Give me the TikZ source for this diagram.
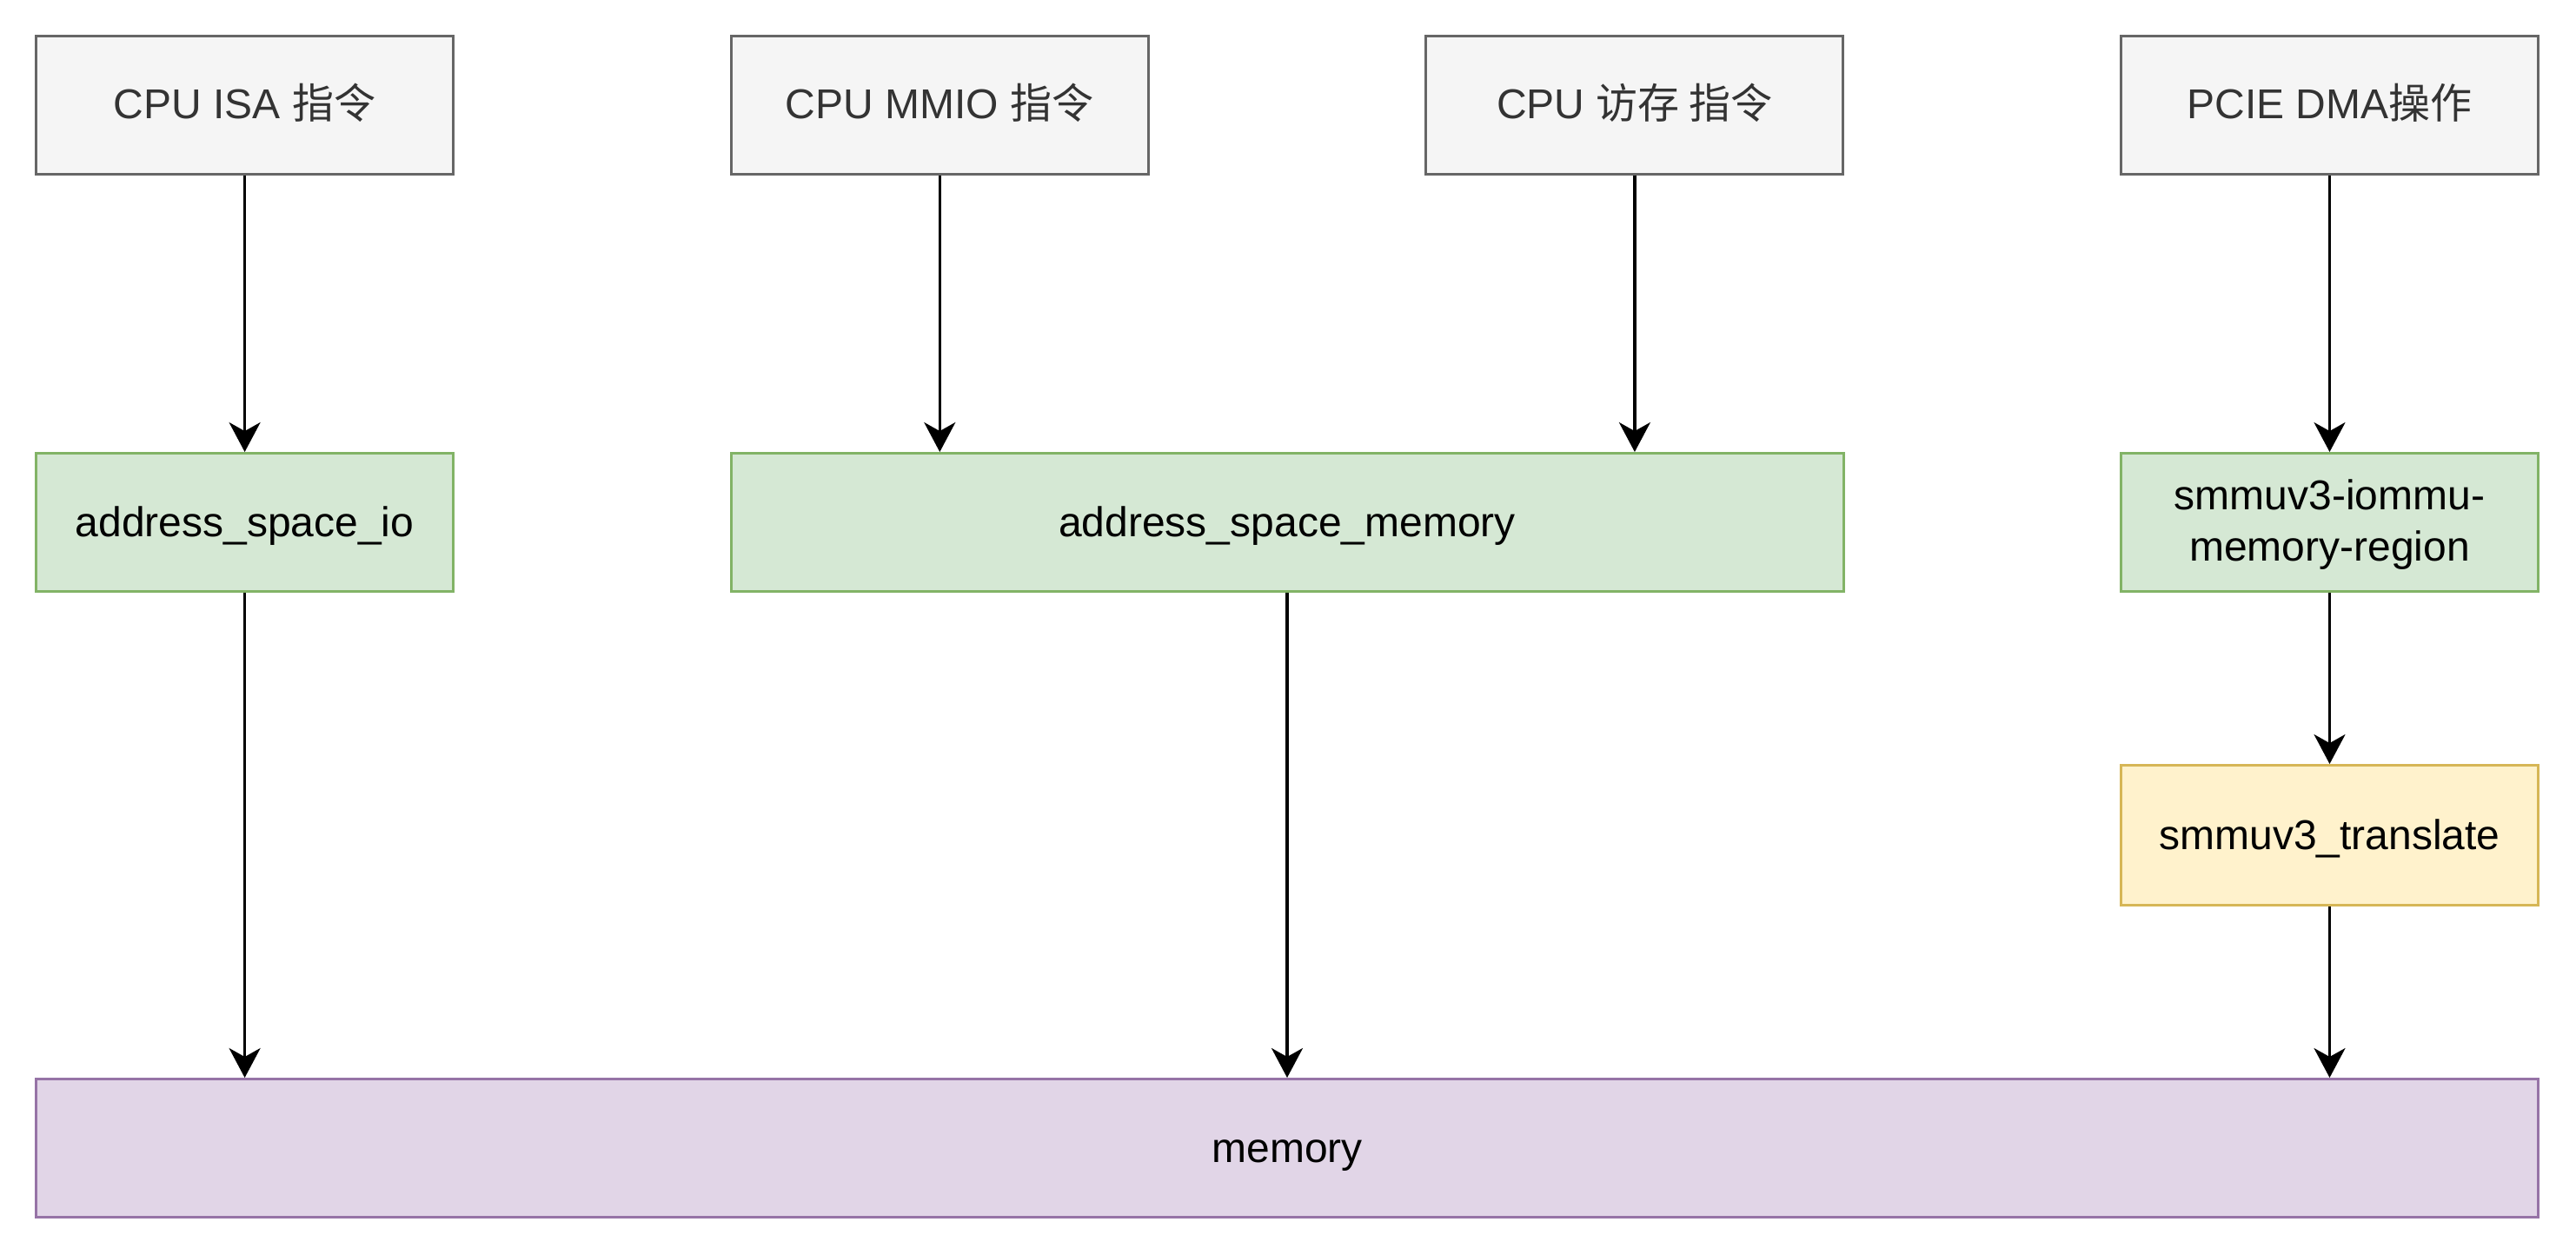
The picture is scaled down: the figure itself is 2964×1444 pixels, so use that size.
\documentclass[tikz,border=0pt]{standalone}
\usepackage{fontspec}
\setmainfont{Liberation Sans}
\newfontfamily\cjk{Noto Sans CJK SC}
\usetikzlibrary{arrows.meta}
\definecolor{grayfill}{HTML}{F5F5F5}
\definecolor{grayline}{HTML}{666666}
\definecolor{graytext}{HTML}{333333}
\definecolor{greenfill}{HTML}{D5E8D4}
\definecolor{greenline}{HTML}{82B366}
\definecolor{yellowfill}{HTML}{FFF2CC}
\definecolor{yellowline}{HTML}{D6B656}
\definecolor{purplefill}{HTML}{E1D5E7}
\definecolor{purpleline}{HTML}{9673A6}
\tikzset{
  box/.style={draw, line width=1.5pt, minimum width=240pt, minimum height=79.5pt,
    inner sep=0pt, align=center, font=\fontsize{24}{29.5}\selectfont},
  oneline/.style={text height=21pt, text depth=5pt},
  twoline/.style={text height=54pt, text depth=10pt},
  graybox/.style={box, oneline, fill=grayfill, draw=grayline, text=graytext},
  greenbox/.style={box, fill=greenfill, draw=greenline},
  yellowbox/.style={box, oneline, fill=yellowfill, draw=yellowline},
  purplebox/.style={box, oneline, fill=purplefill, draw=purpleline},
  conn/.style={line width=1.6pt, -{Stealth[length=17pt,width=18pt,inset=5pt]}}
}
\begin{document}
\begin{tikzpicture}[x=0.5pt,y=-0.5pt]
\useasboundingbox (0,0) rectangle (2964,1444);
\node[graybox] (isa) at (281.6,121) {CPU ISA {\cjk 指令}};
\node[graybox] (mmio) at (1081.3,121) {CPU MMIO {\cjk 指令}};
\node[graybox] (mem) at (1880.9,121) {CPU {\cjk 访存 指令}};
\node[graybox] (dma) at (2680.5,121) {PCIE DMA{\cjk 操作}};
\node[greenbox, oneline] (asio) at (281.6,601) {address\_space\_io};
\node[greenbox, oneline, minimum width=640pt] (asm) at (1481,601) {address\_space\_memory};
\node[greenbox, twoline] (iommu) at (2680.5,601) {smmuv3-iommu-\\memory-region};
\node[yellowbox, minimum height=80.5pt] (trans) at (2680.5,961) {smmuv3\_translate};
\node[purplebox, minimum width=1439.5pt] (memory) at (1481,1321) {memory};
\draw[conn] (isa) -- (asio);
\draw[conn] (mmio.south) -- (mmio.south |- asm.north);
\draw[conn] (mem.south) -- (mem.south |- asm.north);
\draw[conn] (dma) -- (iommu);
\draw[conn] (iommu) -- (trans);
\draw[conn] (asio.south) -- (asio.south |- memory.north);
\draw[conn] (asm.south) -- (asm.south |- memory.north);
\draw[conn] (trans.south) -- (trans.south |- memory.north);
\end{tikzpicture}
\end{document}
